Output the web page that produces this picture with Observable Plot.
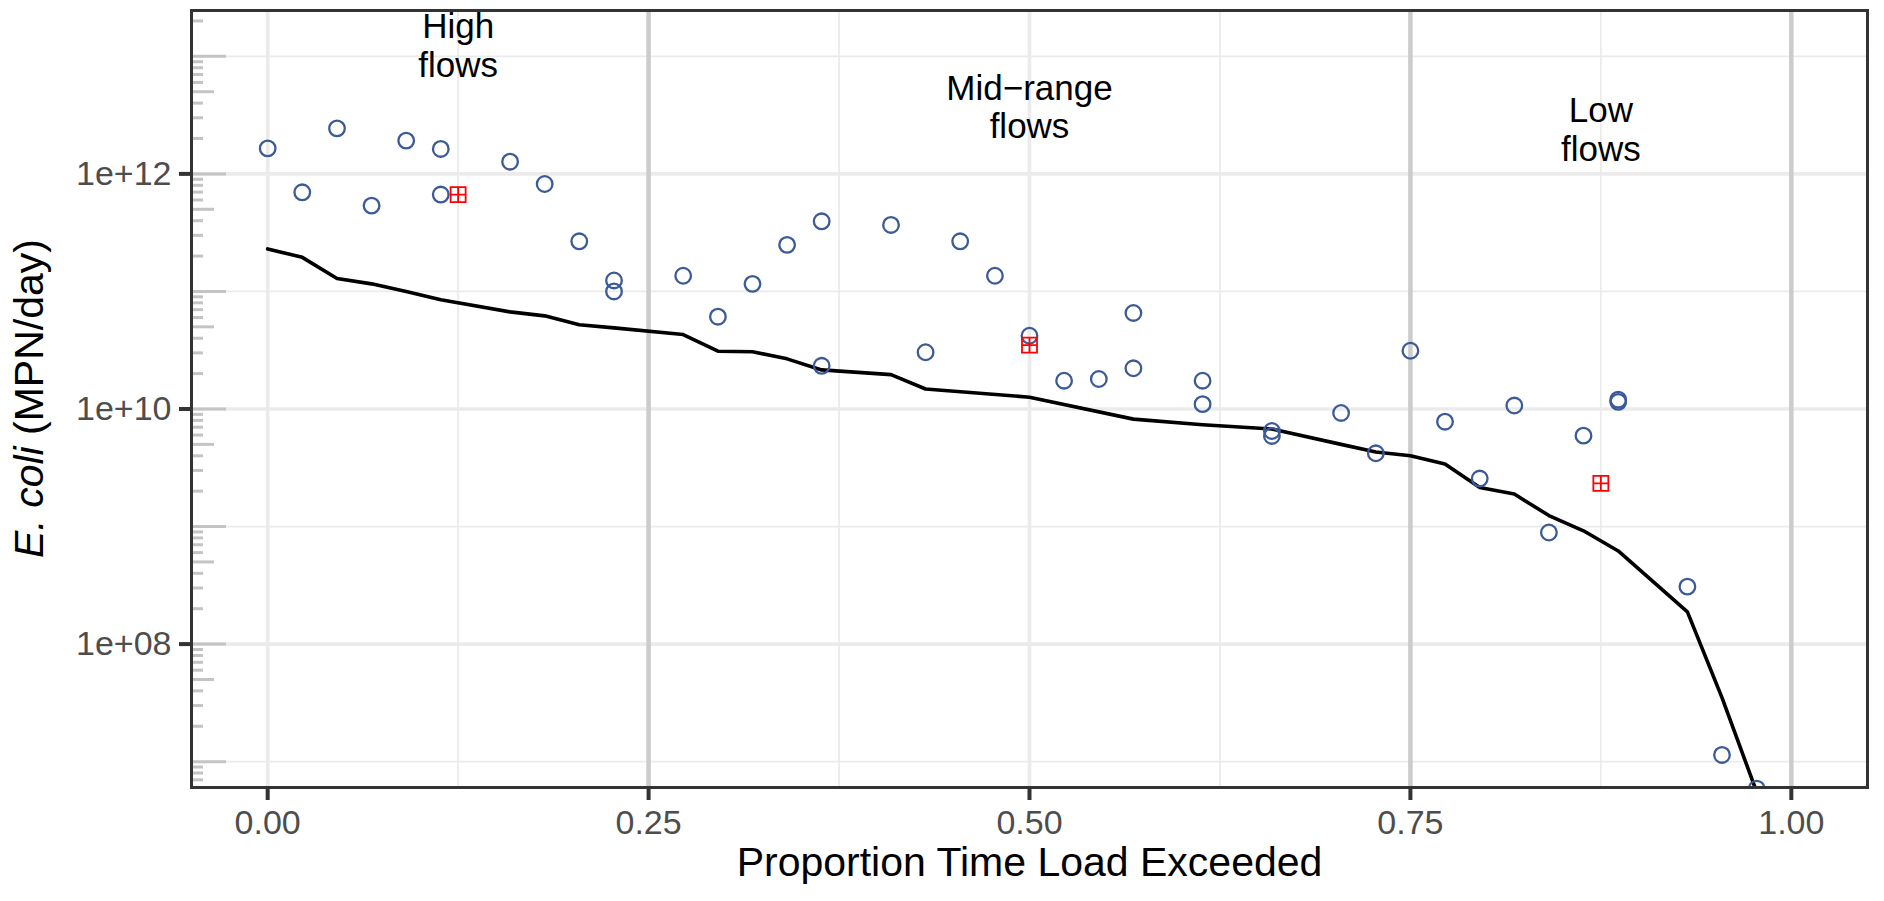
<!DOCTYPE html>
<html>
<head>
<meta charset="utf-8">
<script src="https://cdn.jsdelivr.net/npm/d3@7"></script>
<script src="https://cdn.jsdelivr.net/npm/@observablehq/plot@0.6"></script>
<style>
  html, body { margin: 0; padding: 0; background: #ffffff; }
  #chart svg { display: block; }
</style>
</head>
<body>
<div id="chart"></div>
<script>
// ---------- data ----------
// observed loads (open circles): exceedance proportion and load (MPN/day)
const obsP = [0.0000, 0.0227, 0.0455, 0.0682, 0.0909, 0.1136, 0.1136, 0.1591, 0.1818, 0.2045,
              0.2273, 0.2273, 0.2727, 0.2955, 0.3182, 0.3409, 0.3636, 0.3636, 0.4091, 0.4318,
              0.4545, 0.4773, 0.5000, 0.5227, 0.5455, 0.5682, 0.5682, 0.6136, 0.6136, 0.6591,
              0.6591, 0.7045, 0.7273, 0.7500, 0.7727, 0.7955, 0.8182, 0.8409, 0.8636, 0.8864,
              0.8864, 0.9318, 0.9545, 0.9773];
const obsLoad = [1.65e12, 6.97e11, 2.44e12, 5.37e11, 1.92e12, 1.63e12, 6.67e11, 1.27e12, 8.2e11, 2.67e11,
                 1.24e11, 1.0e11, 1.36e11, 6.1e10, 1.16e11, 2.49e11, 3.95e11, 2.33e10, 3.68e11, 3.04e10,
                 2.67e11, 1.36e11, 4.2e10, 1.74e10, 1.8e10, 6.56e10, 2.22e10, 1.74e10, 1.1e10, 6.5e9,
                 5.9e9, 9.25e9, 4.2e9, 3.13e10, 7.8e9, 2.56e9, 1.07e10, 8.9e8, 5.93e9, 1.15e10,
                 1.2e10, 3.08e8, 1.14e7, 5.9e6];

// load duration curve (black line)
const ldcP = [0.0000, 0.0227, 0.0455, 0.0682, 0.0909, 0.1136, 0.1591, 0.1818, 0.2045, 0.2273,
              0.2727, 0.2955, 0.3182, 0.3409, 0.3636, 0.4091, 0.4318, 0.5000, 0.5682, 0.6136,
              0.6591, 0.7045, 0.7273, 0.7500, 0.7727, 0.7955, 0.8182, 0.8409, 0.8636, 0.8864,
              0.9318, 0.9545, 0.9773];
const ldcLoad = [2.3e11, 1.95e11, 1.29e11, 1.16e11, 1.0e11, 8.5e10, 6.7e10, 6.2e10, 5.2e10, 4.9e10,
                 4.3e10, 3.1e10, 3.07e10, 2.67e10, 2.15e10, 1.96e10, 1.48e10, 1.26e10, 8.2e9, 7.35e9,
                 6.76e9, 5.0e9, 4.3e9, 4.0e9, 3.4e9, 2.15e9, 1.89e9, 1.24e9, 9.2e8, 6.2e8,
                 1.88e8, 3.5e7, 5.5e6];

// regime summary loads (red boxed-plus squares)
const gmP = [0.125, 0.5, 0.875];
const gmLoad = [6.67e11, 3.5e10, 2.33e9];

// flow regime annotations
const regimeLabels = ["High\nflows", "Mid\u2212range\nflows", "Low\nflows"];
const regimeX = [0.125, 0.5, 0.875];
const regimeY = [1.24e13, 3.72e12, 2.4e12];

// axes
const xTicks = [0, 0.25, 0.5, 0.75, 1];
const xTickLabels = ["0.00", "0.25", "0.50", "0.75", "1.00"];
const xMinor = [0.125, 0.375, 0.625, 0.875];
const regimeBreaks = [0.25, 0.75, 1];
const yTicks = [1e8, 1e10, 1e12];
const yTickLabels = ["1e+08", "1e+10", "1e+12"];
const yMinor = [1e7, 1e9, 1e11, 1e13];
const xTitle = "Proportion Time Load Exceeded";
const yTitleItalic = "E. coli";
const yTitleRest = " (MPN/day)";

// ---------- layout ----------
const W = 1884, H = 901;
const mL = 191, mR = 17, mT = 10, mB = 114;
const xDomain = [-0.05, 1.05];
const yDomain = [Math.pow(10, 6.78), Math.pow(10, 13.39)];
const FONT = "'Liberation Sans', Arial, Helvetica, sans-serif";

const obs = obsP.map((p, i) => ({p, load: obsLoad[i]}));
const ldc = ldcP.map((p, i) => ({p, load: ldcLoad[i]}));
const gm = gmP.map((p, i) => ({p, load: gmLoad[i]}));
const regimes = regimeLabels.map((t, i) => ({t, x: regimeX[i], y: regimeY[i]}));

// log ticks (annotation_logticks style) along left edge of panel
const pxToX = px => px / (W - mL - mR) * (xDomain[1] - xDomain[0]);
const logTicks = [];
for (let k = 6; k <= 13; k++) {
  for (let m = 1; m <= 9; m++) {
    const v = m * Math.pow(10, k);
    if (v < yDomain[0] || v > yDomain[1]) continue;
    const len = m === 1 ? 35 : m === 5 ? 23 : 12;
    logTicks.push({v, x2: xDomain[0] + pxToX(len)});
  }
}

// square with a plus inside (ggplot shape 12)
const boxplus = {
  draw(context, size) {
    const r = Math.sqrt(size / Math.PI);
    context.moveTo(-r, -r); context.lineTo(r, -r); context.lineTo(r, r); context.lineTo(-r, r); context.closePath();
    context.moveTo(0, -r); context.lineTo(0, r);
    context.moveTo(-r, 0); context.lineTo(r, 0);
  }
};

const chart = Plot.plot({
  width: W, height: H,
  marginLeft: mL, marginRight: mR, marginTop: mT, marginBottom: mB,
  x: {domain: xDomain},
  y: {type: "log", domain: yDomain},
  style: {fontFamily: FONT, background: "#ffffff", overflow: "visible"},
  marks: [
    Plot.ruleY(yMinor, {stroke: "#ebebeb", strokeWidth: 1.8}),
    Plot.ruleX(xMinor, {stroke: "#ebebeb", strokeWidth: 1.8}),
    Plot.ruleY(yTicks, {stroke: "#ebebeb", strokeWidth: 3.6}),
    Plot.ruleX(xTicks, {stroke: "#ebebeb", strokeWidth: 3.6}),
    Plot.ruleX(regimeBreaks, {stroke: "#cccccc", strokeWidth: 4.5}),
    Plot.ruleY(logTicks, {y: "v", x1: xDomain[0], x2: "x2", stroke: "#c4c4c4", strokeWidth: 3}),
    Plot.line(ldc, {x: "p", y: "load", stroke: "#000000", strokeWidth: 3.6, clip: true}),
    Plot.dot(obs, {x: "p", y: "load", r: 7.8, stroke: "#3b5b98", strokeWidth: 2.3, fill: "none", clip: true}),
    Plot.dot(gm, {x: "p", y: "load", symbol: boxplus, r: 7.5, stroke: "#ff0000", strokeWidth: 1.8, fill: "none"}),
    Plot.text(regimes, {x: "x", y: "y", text: "t", fontSize: 35, lineHeight: 1.1, fill: "#000000"}),
    Plot.axisX(xTicks, {
      tickFormat: d => xTickLabels[xTicks.indexOf(d)],
      tickSize: 13, tickPadding: 9, strokeWidth: 4, stroke: "#333333",
      fill: "#4d4d4d", fontSize: 34, label: null
    }),
    Plot.axisY(yTicks, {
      tickFormat: d => yTickLabels[yTicks.indexOf(d)],
      tickSize: 12, tickPadding: 8, strokeWidth: 4, stroke: "#333333",
      fill: "#4d4d4d", fontSize: 34, label: null
    }),
    Plot.frame({stroke: "#333333", strokeWidth: 3}),
    Plot.text([xTitle], {frameAnchor: "bottom", dy: 88, lineAnchor: "bottom", fontSize: 41, fill: "#000000"})
  ]
});

// y-axis title with italic species name
const svg = d3.select(chart);
const yt = svg.append("text")
  .attr("transform", `translate(43,${(mT + H - mB) / 2}) rotate(-90)`)
  .attr("text-anchor", "middle")
  .attr("font-size", 41)
  .attr("font-family", FONT)
  .attr("fill", "#000000");
yt.append("tspan").attr("font-style", "italic").text(yTitleItalic);
yt.append("tspan").text(yTitleRest);

document.getElementById("chart").appendChild(chart);
</script>
</body>
</html>
